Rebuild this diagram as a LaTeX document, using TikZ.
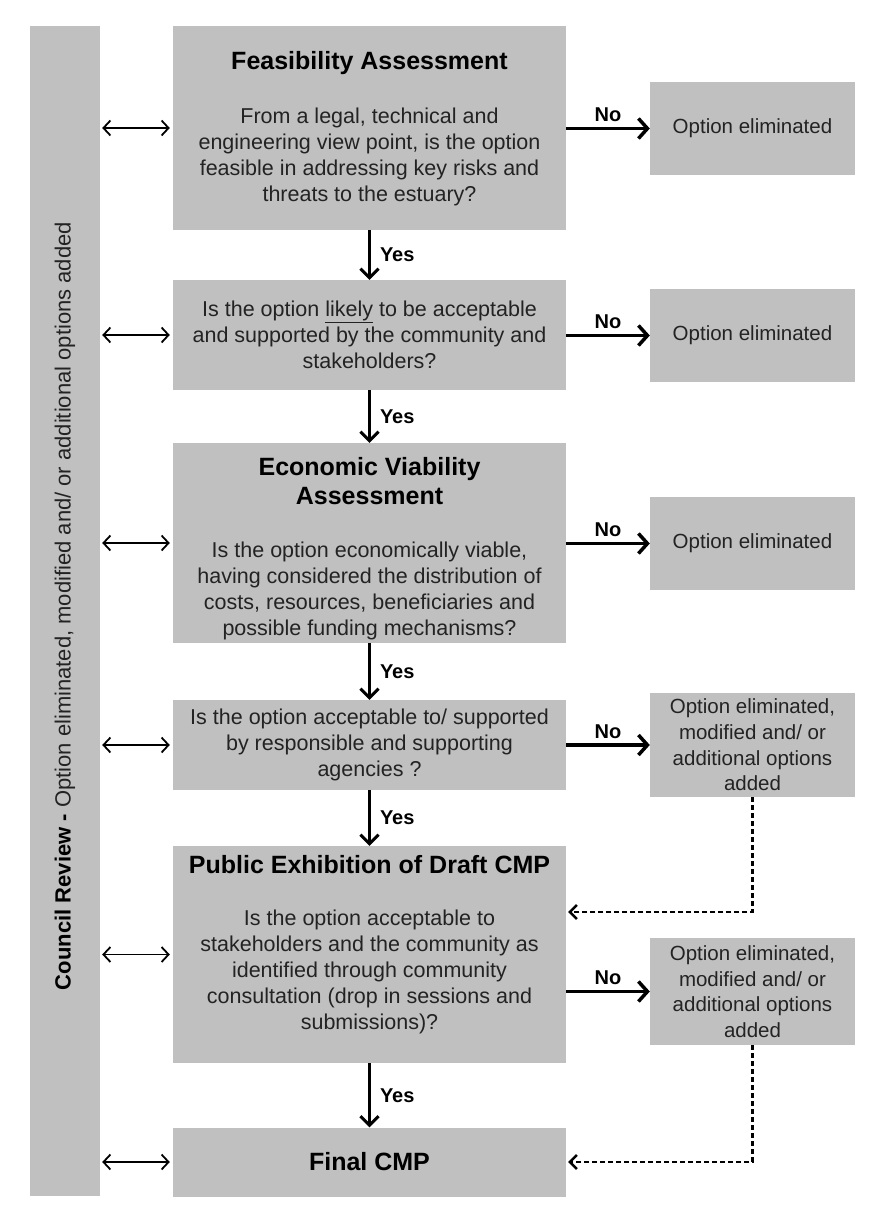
\documentclass[tikz,border=0pt]{standalone}
\usepackage{fontspec}
\setmainfont{Liberation Sans}
\usetikzlibrary{arrows.meta,calc}
\definecolor{boxgray}{RGB}{192,192,192}
\definecolor{txtgray}{RGB}{35,35,35}
\begin{document}
\begin{tikzpicture}[x=1pt,y=-1pt,
  mainbox/.style={fill=boxgray,minimum width=393pt,inner sep=0pt,align=center,text=txtgray,font=\fontsize{21.5}{26}\selectfont},
  sidebox/.style={fill=boxgray,minimum width=205pt,inner sep=0pt,align=center,text=txtgray,font=\fontsize{20.5}{25.6}\selectfont},
  titletext/.style={font=\bfseries\fontsize{25}{29}\selectfont,align=center,text=black,inner sep=0pt},
  bodytext/.style={font=\fontsize{21.5}{26}\selectfont,align=center,text=txtgray,inner sep=0pt},
  lbl/.style={font=\bfseries\fontsize{20}{24}\selectfont,text=black,inner sep=1pt},
  yesarrow/.style={line width=3pt,-{Straight Barb[length=9pt,width=18pt]}},
  noarrow/.style={line width=3.5pt,-{Straight Barb[length=9pt,width=20pt]}},
  dblarrow/.style={line width=1.8pt,{Straight Barb[length=7pt,width=15pt]}-{Straight Barb[length=7pt,width=15pt]},shorten <=2pt,shorten >=3pt},
  dasharrow/.style={line width=2.4pt,dash pattern=on 5pt off 3pt,-{Straight Barb[length=7pt,width=14pt]},shorten >=2pt}
]
\useasboundingbox (0,0) rectangle (871,1206);
\fill[white] (0,0) rectangle (871,1206);

% left bar
\node[fill=boxgray,minimum width=70pt,minimum height=1170pt,inner sep=0pt] (bar) at (65,611) {};
\node[rotate=90,font=\fontsize{22}{26}\selectfont,text=txtgray,inner sep=0pt] (bartext) at (65,606)
  {\textbf{\color{black}Council Review -} Option eliminated, modified and/ or additional options added};

% main boxes
\node[mainbox,minimum height=204pt] (b1) at (369.5,128) {};
\node[titletext] (t1) at (369.5,63) {Feasibility Assessment};
\node[bodytext] (x1) at (369.5,156.5) {From a legal, technical and\\engineering view point, is the option\\feasible in addressing key risks and\\threats to the estuary?};

\node[mainbox,minimum height=110pt] (b2) at (369.5,335) {Is the option \underline{likely} to be acceptable\\and supported by the community  and\\stakeholders?};

\node[mainbox,minimum height=200pt] (b3) at (369.5,543) {};
\node[titletext] (t3) at (369.5,481.5) {Economic Viability\\Assessment};
\node[bodytext] (x3) at (369.5,590.5) {Is the option economically  viable,\\having considered the distribution of\\costs, resources, beneficiaries and\\possible funding mechanisms?};

\node[mainbox,minimum height=90pt] (b4) at (369.5,745) {Is the option acceptable to/ supported\\by responsible and supporting\\agencies ?};

\node[mainbox,minimum height=217pt] (b5) at (369.5,954.5) {};
\node[titletext] (t5) at (369.5,865) {Public Exhibition of Draft CMP};
\node[bodytext] (x5) at (369.5,972) {Is the option acceptable to\\stakeholders and the community  as\\identified through  community\\consultation (drop in sessions and\\submissions)?};

\node[mainbox,minimum height=69pt,font=\bfseries\fontsize{25}{29}\selectfont,text=black] (b6) at (369.5,1162) {Final CMP};

% side boxes
\node[sidebox,minimum height=93pt] (s1) at (752.5,128.5) {Option eliminated};
\node[sidebox,minimum height=93pt] (s2) at (752.5,335.5) {Option eliminated};
\node[sidebox,minimum height=93pt] (s3) at (752.5,543.5) {Option eliminated};
\node[sidebox,minimum height=104pt] (s4) at (752.5,745) {Option eliminated,\\modified and/ or\\additional options\\added};
\node[sidebox,minimum height=107pt] (s5) at (752.5,991.5) {Option eliminated,\\modified and/ or\\additional options\\added};

% yes arrows
\draw[yesarrow] (b1.south) -- (b2.north) node[lbl,midway,anchor=west,xshift=8pt] {Yes};
\draw[yesarrow] (b2.south) -- (b3.north) node[lbl,midway,anchor=west,xshift=8pt] {Yes};
\draw[yesarrow] (b3.south) -- (b4.north) node[lbl,midway,anchor=west,xshift=8pt] {Yes};
\draw[yesarrow] (b4.south) -- (b5.north) node[lbl,midway,anchor=west,xshift=8pt] {Yes};
\draw[yesarrow] (b5.south) -- (b6.north) node[lbl,midway,anchor=west,xshift=8pt] {Yes};

% no arrows
\draw[noarrow] (b1.east |- s1.west) -- (s1.west) node[lbl,midway,anchor=south,yshift=4pt] {No};
\draw[noarrow] (b2.east |- s2.west) -- (s2.west) node[lbl,midway,anchor=south,yshift=4pt] {No};
\draw[noarrow] (b3.east |- s3.west) -- (s3.west) node[lbl,midway,anchor=south,yshift=4pt] {No};
\draw[noarrow] (b4.east |- s4.west) -- (s4.west) node[lbl,midway,anchor=south,yshift=4pt] {No};
\draw[noarrow] (b5.east |- s5.west) -- (s5.west) node[lbl,midway,anchor=south,yshift=4pt] {No};

% council review arrows
\foreach \b in {b1,b2,b3,b4,b5,b6}
  \draw[dblarrow] (bar.east |- \b.west) -- (\b.west);

% dashed feedback
\coordinate (d1) at (0,912);
\draw[dasharrow] (s4.south) |- (b5.east |- d1);
\draw[dasharrow] (s5.south) |- (b6.east);
\end{tikzpicture}
\end{document}
